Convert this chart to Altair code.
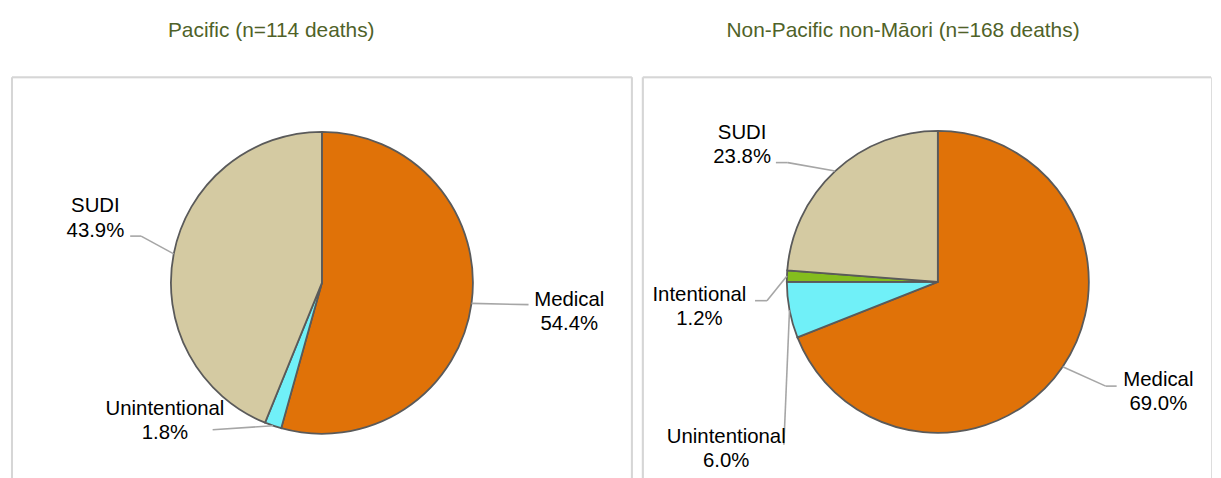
import altair as alt
import pandas as pd

# ---- data -------------------------------------------------------------
categories = ["Medical", "Unintentional", "Intentional", "SUDI"]
pacific_pct = [54.4, 1.8, 0.0, 43.9]
non_pacific_pct = [69.0, 6.0, 1.2, 23.8]
slice_colors = ["#E07208", "#70F0F8", "#84BD1E", "#D4CAA2"]
panel_titles = ["Pacific (n=114 deaths)", "Non-Pacific non-M\u0101ori (n=168 deaths)"]

# ---- annotation layout (px, relative to the pie centre) ----------------
pacific_label_xy = [(249, 23), (-158, 133), (0, 0), (-228, -71)]
pacific_elbow_xy = [(208, 22), (-110, 148), (0, 0), (-182, -47)]
pacific_end_xy = [(208, 22), (-110, 148), (0, 0), (-193, -47)]
non_pacific_label_xy = [(222, 105), (-213, 162), (-240, 19), (-197, -144)]
non_pacific_elbow_xy = [(169, 105), (-155, 164), (-172, 19), (-151, -120)]
non_pacific_end_xy = [(180, 105), (-155, 164), (-184, 19), (-163, -120)]

FONT = "Liberation Sans"
H = 420
R = 152


def panel(pcts, label_xy, elbow_xy, end_xy, title, W, cx, cy, tdx, right_border):
    df = pd.DataFrame({
        "category": categories,
        "pct": pcts,
        "idx": list(range(len(categories))),
        "lx": [p[0] for p in label_xy], "ly": [p[1] for p in label_xy],
        "bx": [p[0] for p in elbow_xy], "by": [p[1] for p in elbow_xy],
        "ex": [p[0] for p in end_xy], "ey": [p[1] for p in end_xy],
    })
    xs = alt.Scale(domain=[0, W], range=[0, W], nice=False, zero=False)
    ys = alt.Scale(domain=[0, H], range=[0, H], nice=False, zero=False)
    base = alt.Chart(df).transform_filter("datum.pct > 0")

    arcs = base.mark_arc(outerRadius=R, stroke="#5A5A5A", strokeWidth=1.8).encode(
        theta=alt.Theta("pct:Q", stack=True),
        color=alt.Color("category:N",
                        scale=alt.Scale(domain=categories, range=slice_colors),
                        legend=None),
        order=alt.Order("idx:Q", sort="ascending"),
        x=alt.value(cx), y=alt.value(cy),
    )

    geo = (
        base.transform_window(cum="sum(pct)",
                              sort=[alt.SortField("idx", order="ascending")],
                              frame=[None, 0])
        .transform_joinaggregate(total="sum(pct)")
        .transform_calculate(mid="(datum.cum - datum.pct / 2) / datum.total * 2 * PI")
        .transform_calculate(
            sx=f"{cx} + {R} * sin(datum.mid)",
            sy=f"{cy} - {R} * cos(datum.mid)",
            bxa=f"{cx} + datum.bx", bya=f"{cy} + datum.by",
            exa=f"{cx} + datum.ex", eya=f"{cy} + datum.ey",
            lxa=f"{cx} + datum.lx", lya=f"{cy} + datum.ly",
            label="[datum.category, format(datum.pct, '.1f') + '%']",
        )
    )
    lead1 = geo.mark_rule(color="#A6A6A6", strokeWidth=1.6).encode(
        x=alt.X("sx:Q", scale=xs, axis=None),
        y=alt.Y("sy:Q", scale=ys, axis=None),
        x2="bxa:Q", y2="bya:Q",
    )
    lead2 = geo.mark_rule(color="#A6A6A6", strokeWidth=1.6).encode(
        x=alt.X("bxa:Q", scale=xs, axis=None),
        y=alt.Y("bya:Q", scale=ys, axis=None),
        x2="exa:Q", y2="eya:Q",
    )
    labels = geo.mark_text(align="center", baseline="alphabetic", fontSize=20.5,
                           font=FONT, lineHeight=24.5, color="#000000").encode(
        x=alt.X("lxa:Q", scale=xs, axis=None),
        y=alt.Y("lya:Q", scale=ys, axis=None),
        text="label:N",
    )

    one = alt.Chart(pd.DataFrame({"b": [0]}))
    border_col = "#D6D6D6"
    layers = [
        one.mark_rule(color=border_col, strokeWidth=2).encode(
            x=alt.value(0), x2=alt.value(W), y=alt.value(0)),
        one.mark_rule(color=border_col, strokeWidth=2).encode(
            x=alt.value(0), y=alt.value(0), y2=alt.value(H)),
    ]
    if right_border:
        layers.append(one.mark_rule(color=border_col, strokeWidth=2).encode(
            x=alt.value(W), y=alt.value(0), y2=alt.value(H)))

    return alt.layer(arcs, lead1, lead2, labels, *layers).properties(
        width=W, height=H,
        title=alt.TitleParams(panel_titles[title],
                              fontSize=21, font=FONT, color="#4F6228",
                              fontWeight="normal", anchor="middle",
                              baseline="alphabetic", offset=18, dx=tdx),
    )


left = panel(pacific_pct, pacific_label_xy, pacific_elbow_xy, pacific_end_xy,
             0, 624, 312, 207, -51, True)
right = panel(non_pacific_pct, non_pacific_label_xy, non_pacific_elbow_xy,
              non_pacific_end_xy, 1, 572, 297, 206, -24, False)

chart = (
    alt.hconcat(left, right, spacing=7)
    .properties(padding={"left": 2, "top": 10, "right": 0, "bottom": 0})
    .configure_view(fill="#DAFDFE", stroke=None)
    .configure(font=FONT)
)

chart.save("out.html", embed_options={"renderer": "svg", "actions": False})
